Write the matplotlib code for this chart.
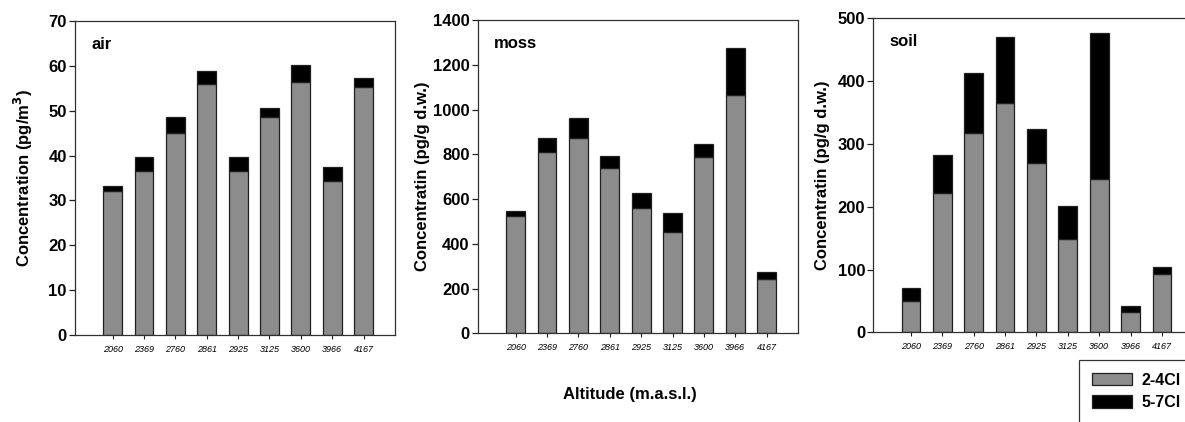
import matplotlib
matplotlib.use("Agg")
import matplotlib.pyplot as plt
import numpy as np

plt.rcParams['font.family'] = ['Liberation Sans', 'DejaVu Sans']

altitudes = ["2060", "2369", "2760", "2861", "2925", "3125", "3600", "3966", "4167"]

# 2-4Cl (gray) and total (top of black segment)
air_low = [32.2, 36.5, 45.0, 56.0, 36.6, 48.7, 56.4, 34.4, 55.4]
air_total = [33.3, 39.7, 48.6, 58.8, 39.7, 50.5, 60.2, 37.4, 57.4]

moss_low = [524, 811, 874, 740, 558, 454, 789, 1065, 241]
moss_total = [548, 874, 963, 792, 628, 539, 844, 1276, 275]

soil_low = [49.8, 222, 318, 365, 269, 148.6, 244, 31.8, 92.4]
soil_total = [71, 283, 413, 470, 323, 201.6, 476, 41.9, 104.5]

W, H = 1185, 422
# name, low, total, ymax, step, ylabel, axes rect, ylabel center x (px)
panels = [
    ("air", air_low, air_total, 70, 10, "Concentration (pg/m$\\mathbf{^3}$)",
     [0.0633, 0.2062, 0.270, 0.744], 23),
    ("moss", moss_low, moss_total, 1400, 200, "Concentratin (pg/g d.w.)",
     [0.4034, 0.2102, 0.270, 0.7424], 423),
    ("soil", soil_low, soil_total, 500, 100, "Concentratin (pg/g d.w.)",
     [0.737, 0.2125, 0.270, 0.7441], 822),
]

fig = plt.figure(figsize=(W / 100, H / 100), dpi=100)
x = np.arange(len(altitudes))
edge = "#202020"

for name, low, total, ymax, step, ylabel, pos, labx in panels:
    ax = fig.add_axes(pos)
    high = np.array(total) - np.array(low)
    b1 = ax.bar(x, low, width=0.6, color="#8c8c8c", edgecolor=edge, linewidth=0.9)
    b2 = ax.bar(x, high, width=0.6, bottom=low, color="black", edgecolor=edge, linewidth=0.9)
    ax.set_xlim(-1.2, 9.0)
    ax.set_ylim(0, ymax)
    ax.set_yticks(np.arange(0, ymax + 1, step))
    ax.set_xticks(x)
    ax.set_xticklabels(altitudes, fontsize=6.5, style="italic")
    for lab in ax.get_yticklabels():
        lab.set_fontweight("bold")
        lab.set_fontsize(12)
    ax.tick_params(axis="y", direction="out", length=4, width=0.9, color=edge, pad=2)
    ax.tick_params(axis="x", direction="out", length=3, width=0.8, color=edge, pad=4)
    for sp in ax.spines.values():
        sp.set_linewidth(0.9)
        sp.set_color("#303030")
    ax.set_ylabel(ylabel, fontsize=12, fontweight="bold", va="center")
    ax.yaxis.set_label_coords((labx / W - pos[0]) / pos[2], 0.5)
    ax.text(0.05, 0.95, name, transform=ax.transAxes, fontsize=12,
            fontweight="bold", va="top", ha="left")

fig.text(630 / W, 1 - 395 / H, "Altitude (m.a.s.l.)", fontsize=12,
         fontweight="bold", ha="center", va="center")

leg = fig.legend([b1, b2], ["2-4Cl", "5-7Cl"], loc="upper left",
                 bbox_to_anchor=(1079 / W, 1 - 360 / H),
                 prop={"weight": "bold", "size": 11.5},
                 frameon=True, fancybox=False, handlelength=2.5,
                 handleheight=0.8, borderpad=0.8, labelspacing=0.45,
                 handletextpad=0.6, borderaxespad=0)
leg.get_frame().set_edgecolor("black")
leg.get_frame().set_linewidth(0.9)

fig.savefig("out.png", dpi=100)
